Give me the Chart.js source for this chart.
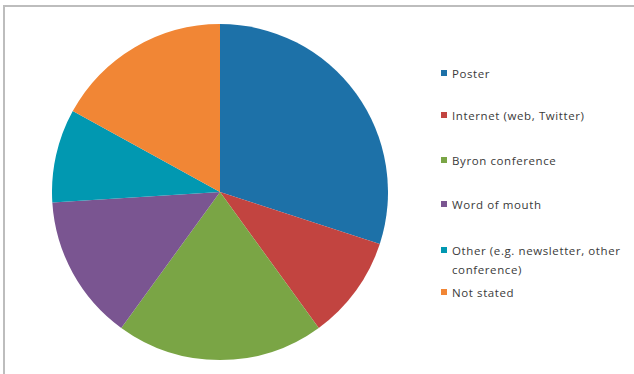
<!DOCTYPE html>
<html>
<head>
<meta charset="utf-8">
<script src="https://cdn.jsdelivr.net/npm/chart.js@4.4.1/dist/chart.umd.min.js"></script>
<style>
  html, body { margin: 0; padding: 0; width: 634px; height: 374px; overflow: hidden; background: #fff; }
  #frame { position: absolute; left: 3px; top: 5px; width: 700px; height: 500px;
           border-top: 2px solid #bdbdbd; border-left: 2px solid #bdbdbd; }
  #pieBox { position: absolute; left: 52px; top: 24px; width: 336px; height: 336px; }
  #legend { position: absolute; left: 441px; top: 0; width: 192px;
            font-family: "Open Sans", "Liberation Sans", sans-serif; font-size: 11.5px;
            letter-spacing: 0.6px; color: #3a3a3a; }
  .item { position: absolute; left: 0; width: 192px; line-height: 19px; }
  .sw { position: absolute; left: 0; top: 6px; width: 6px; height: 6px; }
  .txt { position: absolute; left: 11px; top: 0; width: 180px; }
</style>
</head>
<body>
<div id="frame"></div>
<div id="pieBox"><canvas id="c"></canvas></div>
<div id="legend"></div>
<script>
const categories = ["Poster", "Internet (web, Twitter)", "Byron conference", "Word of mouth",
                    "Other (e.g. newsletter, other conference)", "Not stated"];
const values = [30, 10, 20, 14, 9, 17];
const colors = ["#1D71A8", "#C24440", "#7AA545", "#7A5591", "#0198B1", "#F18635"];

new Chart(document.getElementById("c"), {
  type: "pie",
  data: {
    labels: categories,
    datasets: [{ data: values, backgroundColor: colors, borderWidth: 0 }]
  },
  options: {
    responsive: true,
    maintainAspectRatio: false,
    animation: false,
    layout: { padding: 0 },
    plugins: { legend: { display: false }, tooltip: { enabled: false } }
  }
});

// HTML legend built from the same arrays
const legendTops = [64, 106, 151, 195, 241, 283];
const legend = document.getElementById("legend");
categories.forEach((name, i) => {
  const item = document.createElement("div");
  item.className = "item";
  item.style.top = legendTops[i] + "px";
  const sw = document.createElement("div");
  sw.className = "sw";
  sw.style.background = colors[i];
  const t = document.createElement("div");
  t.className = "txt";
  t.textContent = name;
  item.appendChild(sw);
  item.appendChild(t);
  legend.appendChild(item);
});
</script>
</body>
</html>
